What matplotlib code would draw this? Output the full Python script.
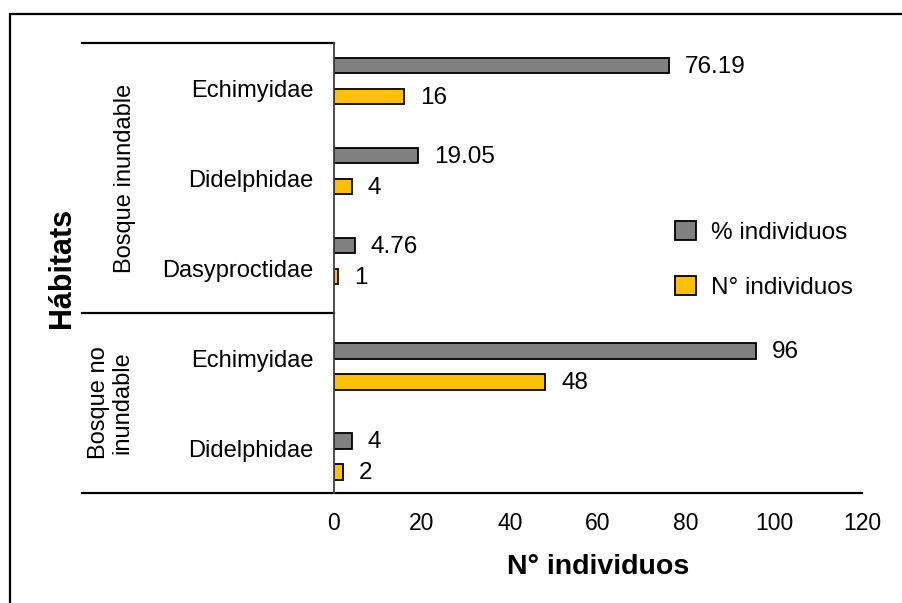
import numpy as np
import matplotlib.pyplot as plt
from matplotlib.patches import Rectangle
from matplotlib.transforms import blended_transform_factory

plt.rcParams['font.family'] = ['Liberation Sans', 'DejaVu Sans']

# ----------------------------
# Data
# ----------------------------
families = ["Echimyidae", "Didelphidae", "Dasyproctidae", "Echimyidae", "Didelphidae"]
habitats = ["Bosque inundable", "Bosque no\ninundable"]
habitat_sizes = [3, 2]
pct_individuos = [76.19, 19.05, 4.76, 96, 4]
n_individuos = [16, 4, 1, 48, 2]
x_ticks = [0, 20, 40, 60, 80, 100, 120]

GREY = "#808080"
GOLD = "#FFC000"

fig = plt.figure(figsize=(9.02, 6.03), dpi=100)
ax = fig.add_axes([334 / 902, 110 / 603, 528 / 902, 450 / 603])

y = np.arange(len(families)) + 0.5
group_idx = np.repeat(np.arange(len(habitats)), habitat_sizes)
# bar offsets inside each category (differ slightly per habitat block)
grey_off = np.array([-0.25, -0.078])[group_idx]
gold_off = np.array([0.094, 0.267])[group_idx]
bar_h = 0.172

ax.barh(y + grey_off, pct_individuos, height=bar_h, color=GREY,
        edgecolor="black", linewidth=1.3, label="% individuos")
ax.barh(y + gold_off, n_individuos, height=bar_h, color=GOLD,
        edgecolor="black", linewidth=1.3, label="N° individuos")

for yy, v in zip(y + grey_off, pct_individuos):
    ax.annotate(f"{v:g}", (v, yy), xytext=(11.5, -1), textcoords="offset points",
                ha="left", va="center", fontsize=17.5)
for yy, v in zip(y + gold_off, n_individuos):
    ax.annotate(f"{v:g}", (v, yy), xytext=(11.5, -1), textcoords="offset points",
                ha="left", va="center", fontsize=17.5)

ax.set_xlim(0, 120)
ax.set_ylim(len(families), 0)
ax.set_xticks(x_ticks)
ax.set_yticks(y)
ax.set_yticklabels(families, fontsize=17)
ax.tick_params(axis="both", length=0)
ax.tick_params(axis="x", pad=13.5, labelsize=16.5)
ax.tick_params(axis="y", pad=15)

for s in ["top", "right", "bottom"]:
    ax.spines[s].set_visible(False)
ax.spines["left"].set_color("#404040")
ax.spines["left"].set_linewidth(1.3)

ax.set_xlabel("N° individuos", fontsize=20.5, fontweight="bold", labelpad=13.5)

# category-area lines (Excel multi-level axis look)
tr = blended_transform_factory(ax.transAxes, ax.transData)
left_x = (82 - 334) / 528
bounds = np.concatenate([[0], np.cumsum(habitat_sizes)])
for b in bounds:
    x_end = 1.0 if b == bounds[-1] else 0.0
    ax.plot([left_x, x_end], [b, b], transform=tr, color="black",
            linewidth=1.6, clip_on=False)

# habitat group labels
group_x = [(125 - 334) / 528, (111 - 334) / 528]
for name, lo, hi, gx in zip(habitats, bounds[:-1], bounds[1:], group_x):
    ax.text(gx, (lo + hi) / 2, name, transform=tr, rotation=90, ha="center",
            va="center", fontsize=17, multialignment="center", linespacing=1.1)

fig.text(62 / 902, 1 - 268 / 603, "Hábitats", rotation=90, ha="center",
         va="center", fontsize=22, fontweight="bold")

fig.legend(loc="upper left", bbox_to_anchor=(675 / 902, 1 - 221 / 603),
           frameon=False, fontsize=17.5, handlelength=0.85, handleheight=0.85,
           handletextpad=0.65, labelspacing=1.3, borderpad=0, borderaxespad=0)

# outer chart border
fig.patches.append(Rectangle((9.5 / 902, -0.05), 1.2, 1 - 14 / 603 + 0.05,
                             transform=fig.transFigure, fill=False,
                             edgecolor="black", linewidth=1.6))

plt.savefig("out.png", dpi=100)
plt.close()
